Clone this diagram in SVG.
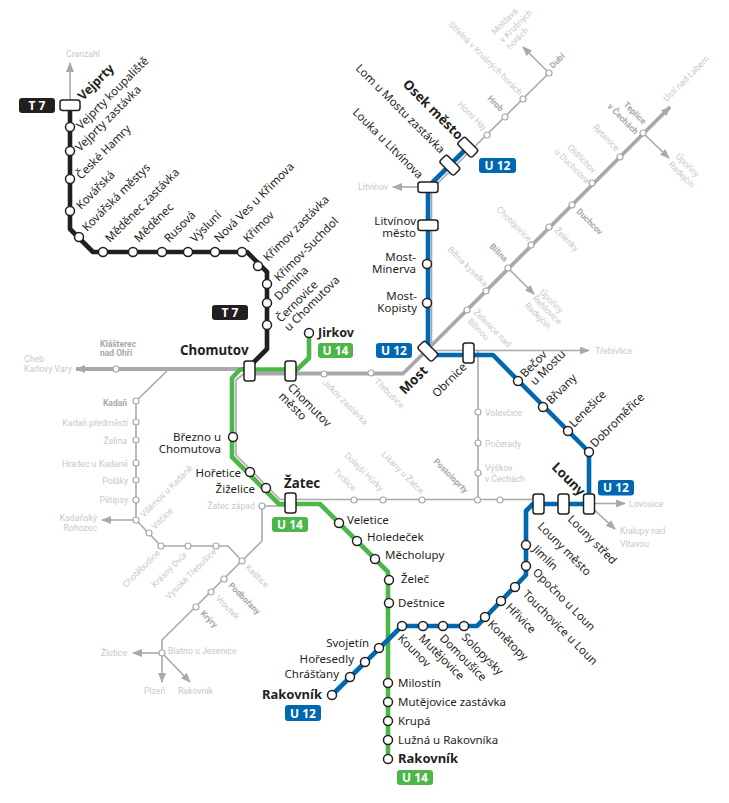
<svg xmlns="http://www.w3.org/2000/svg" width="729" height="803" viewBox="0 0 729 803">
<defs>
<marker id="ah" viewBox="0 0 10 8" refX="9" refY="4" markerWidth="10" markerHeight="8" markerUnits="userSpaceOnUse" orient="auto"><path d="M0 0L10 4L0 8Z" fill="#a7a9ac"/></marker>
<style>
text{font-family:"Noto Sans","Open Sans",sans-serif}
.d{font-size:11.500px;fill:#231f20}
.db{font-size:13.300px;font-weight:700;fill:#231f20}
.g{font-family:Roboto,"Noto Sans",sans-serif;font-size:8.700px;fill:#c7c8ca}
.gb{font-family:Roboto,"Noto Sans",sans-serif;font-size:8.500px;font-weight:700;fill:#a7a9ac}
.e{text-anchor:end}
.s{fill:#fff;stroke:#231f20;stroke-width:1.5}
.t{fill:#fff;stroke:#a7a9ac;stroke-width:1.200}
.r{fill:#fff;stroke:#231f20;stroke-width:1.500}
.l{fill:none;stroke-linejoin:round;stroke-width:4.600}
.gr{stroke:#a7a9ac;stroke-width:1.600;fill:none}
.gt{stroke:#a7a9ac;stroke-width:3.800;fill:none}
.bt{font-size:12px;font-weight:700;fill:#fff;text-anchor:middle}
</style>
</defs>
<g id="connectors">
<path class="gr" d="M70 100V63" marker-end="url(#ah)"/>
<path class="gt" d="M245 369H76" marker-end="url(#ah)"/>
<path class="gt" d="M252 373.500H403L432 345L670 107" marker-end="url(#ah)"/>
<path class="gr" d="M643 133L669 158" marker-end="url(#ah)"/>
<path class="gr" d="M508 268L534 294" marker-end="url(#ah)"/>
<path class="gr" d="M549 73L523 47" marker-end="url(#ah)"/>
<path class="gr" d="M549 73L436 185L431.500 190V345"/>
<path class="gr" d="M418 187H393" marker-end="url(#ah)"/>
<path class="gr" stroke-width="2" d="M430 350.500H589" marker-end="url(#ah)"/>
<path class="gr" d="M478 351V500"/>
<path class="gr" d="M245 373L236 380V455L280 499.500H533"/>
<path class="gr" d="M589 503.500H625" marker-end="url(#ah)"/>
<path class="gr" d="M589 505L615 529" marker-end="url(#ah)"/>
<path class="gr" d="M167 371L136 401V520L161 546H228L242 561"/>
<path class="gr" d="M136 520H102" marker-end="url(#ah)"/>
<path class="gr" d="M285 506H262V541L162 640V653"/>
<path class="gr" d="M162 653H133" marker-end="url(#ah)"/>
<path class="gr" d="M162 653V682" marker-end="url(#ah)"/>
<path class="gr" d="M162 653L190 682" marker-end="url(#ah)"/>
<path class="l" stroke="#231f20" d="M70 105V229L93 252H247L267 272V349L250 366"/>
<path class="l" stroke="#4cb748" d="M309 333V358L297 369.500H240L232 378V457L279 504H320L388 572V759"/>
<path class="l" stroke="#0067b1" d="M468 147L428 187V351L431 355H493L589 452V504H533L526 511V575L477 626H402L332 695"/>
</g>
<g id="badges">
<g id="b1"><rect x="19" y="98" width="36" height="15" rx="3" fill="#231f20"/><text class="bt" x="37" y="110">T 7</text></g>
<g id="b2"><rect x="212" y="305" width="36" height="15" rx="3" fill="#231f20"/><text class="bt" x="230" y="317">T 7</text></g>
<g id="b3"><rect x="318" y="343" width="35" height="15" rx="3" fill="#4cb748"/><text class="bt" x="335.500" y="355">U 14</text></g>
<g id="b4"><rect x="272" y="517" width="36" height="15" rx="3" fill="#4cb748"/><text class="bt" x="290" y="529">U 14</text></g>
<g id="b5"><rect x="397" y="770" width="36" height="15" rx="3" fill="#4cb748"/><text class="bt" x="415" y="782">U 14</text></g>
<g id="b6"><rect x="479" y="158" width="37" height="15" rx="3" fill="#0067b1"/><text class="bt" x="497.500" y="170">U 12</text></g>
<g id="b7"><rect x="376" y="343" width="36" height="15" rx="3" fill="#0067b1"/><text class="bt" x="394" y="355">U 12</text></g>
<g id="b8"><rect x="598" y="480" width="36" height="15.500" rx="3" fill="#0067b1"/><text class="bt" x="616" y="492">U 12</text></g>
<g id="b9"><rect x="285" y="705" width="36" height="16" rx="3" fill="#0067b1"/><text class="bt" x="303" y="717.500">U 12</text></g>
</g>
<g id="t7-line">
<g id="n-vejprty"><rect class="r" x="60" y="100" width="20" height="10.500" rx="2.500"/><text class="db" style="font-size:12.500px" transform="translate(83 101) rotate(-45)">Vejprty</text></g>
<g id="n-vk"><circle class="s" cx="70" cy="127" r="4.500"/><text class="d" transform="translate(81 130) rotate(-45)">Vejprty koupaliště</text></g>
<g id="n-vz"><circle class="s" cx="70" cy="151" r="4.500"/><text class="d" transform="translate(80 152) rotate(-45)">Vejprty zastávka</text></g>
<g id="n-ch"><circle class="s" cx="70" cy="179" r="4.500"/><text class="d" transform="translate(81 180) rotate(-45)">České Hamry</text></g>
<g id="n-ko"><circle class="s" cx="70" cy="211" r="4.500"/><text class="d" transform="translate(81 210) rotate(-45)">Kovářská</text></g>
<g id="n-km"><circle class="s" cx="79" cy="237" r="4.500"/><text class="d" transform="translate(87 232) rotate(-45)">Kovářská městys</text></g>
<g id="n-mz"><circle class="s" cx="103" cy="252" r="4.500"/><text class="d" transform="translate(110 243) rotate(-45)">Měděnec zastávka</text></g>
<g id="n-me"><circle class="s" cx="133" cy="252" r="4.500"/><text class="d" transform="translate(139 243) rotate(-45)">Měděnec</text></g>
<g id="n-ru"><circle class="s" cx="162" cy="252" r="4.500"/><text class="d" transform="translate(169 243) rotate(-45)">Rusová</text></g>
<g id="n-vy"><circle class="s" cx="188" cy="252" r="4.500"/><text class="d" transform="translate(195 243) rotate(-45)">Výsluní</text></g>
<g id="n-nv"><circle class="s" cx="215" cy="252" r="4.500"/><text class="d" transform="translate(219 243) rotate(-45)">Nová Ves u Křimova</text></g>
<g id="n-kr"><circle class="s" cx="242" cy="252" r="4.500"/><text class="d" transform="translate(248 243) rotate(-45)">Křimov</text></g>
<g id="n-kz"><circle class="s" cx="258" cy="266" r="4.500"/><text class="d" transform="translate(268 262) rotate(-45)">Křimov zastávka</text></g>
<g id="n-ks"><circle class="s" cx="267" cy="284" r="4.500"/><text class="d" transform="translate(279 282) rotate(-45)">Křimov-Suchdol</text></g>
<g id="n-do"><circle class="s" cx="267" cy="303" r="4.500"/><text class="d" transform="translate(279 301) rotate(-45)">Domina</text></g>
<g id="n-ce"><circle class="s" cx="267" cy="325" r="4.500"/><text class="d" transform="translate(281 323) rotate(-45)">Černovice</text><text class="d" transform="translate(289 332) rotate(-45)">u Chomutova</text></g>
</g>
<g id="u14-line">
<g id="n-jirkov"><circle class="s" cx="309" cy="333" r="4.500"/><text class="db" style="font-size:12.500px" x="318" y="337">Jirkov</text></g>
<g id="n-chomutov"><rect class="r" x="244" y="361" width="11" height="20" rx="2.500"/><text class="db" x="180" y="355">Chomutov</text></g>
<g id="n-chm"><rect class="r" x="285" y="361" width="11" height="20" rx="2.500"/><text class="d" transform="translate(287 388) rotate(45)">Chomutov</text><text class="d" transform="translate(278 397) rotate(45)">město</text></g>
<g id="n-br"><circle class="s" cx="233" cy="437" r="4.500"/><text class="d e" x="221" y="441">Březno u</text><text class="d e" x="221" y="452.500">Chomutova</text></g>
<g id="n-ho"><circle class="s" cx="250" cy="472" r="4.500"/><text class="d e" x="241" y="477">Hořetice</text></g>
<g id="n-zi"><circle class="s" cx="266" cy="488" r="4.500"/><text class="d e" x="255" y="493">Žiželice</text></g>
<g id="n-zatec"><rect class="r" x="285" y="493" width="11" height="20" rx="2.500"/><text class="db" x="284" y="488">Žatec</text></g>
<g id="n-ve"><circle class="s" cx="339" cy="523" r="4.500"/><text class="d" x="347" y="524">Veletice</text></g>
<g id="n-hd"><circle class="s" cx="357" cy="541" r="4.500"/><text class="d" x="367" y="541">Holedeček</text></g>
<g id="n-mc"><circle class="s" cx="375" cy="559" r="4.500"/><text class="d" x="385" y="559">Měcholupy</text></g>
<g id="n-zc"><circle class="s" cx="389" cy="580" r="4.500"/><text class="d" x="401" y="583">Želeč</text></g>
<g id="n-de"><circle class="s" cx="389" cy="603" r="4.500"/><text class="d" x="398" y="607">Deštnice</text></g>
<g id="n-mi"><circle class="s" cx="388" cy="683" r="4.500"/><text class="d" x="398" y="687">Milostín</text></g>
<g id="n-mu"><circle class="s" cx="388" cy="702" r="4.500"/><text class="d" x="398" y="706">Mutějovice zastávka</text></g>
<g id="n-kp"><circle class="s" cx="388" cy="721" r="4.500"/><text class="d" x="398" y="725">Krupá</text></g>
<g id="n-lu"><circle class="s" cx="388" cy="740" r="4.500"/><text class="d" x="398" y="744">Lužná u Rakovníka</text></g>
<g id="n-ra"><circle class="s" cx="388" cy="759" r="4.500"/><text class="db" style="font-size:13px" x="398" y="763">Rakovník</text></g>
</g>
<g id="u12-line">
<g id="n-osek"><rect class="r" x="458" y="142" width="20" height="10.500" rx="2.500" transform="rotate(45 468 147)"/><text class="db" transform="translate(402 85) rotate(45)">Osek město</text></g>
<g id="n-lom"><rect class="r" x="440" y="160" width="20" height="10.500" rx="2.500" transform="rotate(45 450 165)"/><text class="d" transform="translate(355 69) rotate(45)">Lom u Mostu zastávka</text></g>
<g id="n-louka"><rect class="r" x="418" y="182" width="20" height="10.500" rx="2.500"/><text class="d" transform="translate(352 113) rotate(45)">Louka u Litvínova</text></g>
<g id="n-lm"><rect class="r" x="418" y="220" width="20" height="10.500" rx="2.500"/><text class="d e" x="416" y="225">Litvínov</text><text class="d e" x="416" y="237">město</text></g>
<g id="n-mm"><circle class="s" cx="427" cy="264" r="4.500"/><text class="d e" x="416" y="261">Most-</text><text class="d e" x="416" y="273">Minerva</text></g>
<g id="n-mk"><circle class="s" cx="427" cy="303" r="4.500"/><text class="d e" x="417" y="300">Most-</text><text class="d e" x="417" y="312">Kopisty</text></g>
<g id="n-most"><rect class="r" x="418" y="346" width="20" height="10.500" rx="2.500" transform="rotate(45 428 351)"/><text class="db" transform="translate(405 395) rotate(-45)">Most</text></g>
<g id="n-ob"><rect class="r" x="463" y="343" width="11" height="20" rx="2.500"/><text class="d" transform="translate(437 398) rotate(-45)">Obrnice</text></g>
<g id="n-be"><circle class="s" cx="518" cy="381" r="4.500"/><text class="d" transform="translate(525 378) rotate(-45)">Bečov</text><text class="d" transform="translate(535 386) rotate(-45)">u Mostu</text></g>
<g id="n-bv"><circle class="s" cx="543" cy="407" r="4.500"/><text class="d" transform="translate(551 405) rotate(-45)">Břvany</text></g>
<g id="n-le"><circle class="s" cx="568" cy="431" r="4.500"/><text class="d" transform="translate(574 428) rotate(-45)">Lenešice</text></g>
<g id="n-db"><circle class="s" cx="589" cy="452" r="4.500"/><text class="d" transform="translate(595 448) rotate(-45)">Dobroměřice</text></g>
<g id="n-louny"><rect class="r" x="583.500" y="494" width="11" height="20" rx="2.500"/><text class="db" transform="translate(551 468) rotate(45)">Louny</text></g>
<g id="n-ls"><rect class="r" x="558" y="494" width="11" height="20" rx="2.500"/><text class="d" transform="translate(567 520) rotate(45)">Louny střed</text></g>
<g id="n-lo"><rect class="r" x="533" y="494" width="11" height="20" rx="2.500"/><text class="d" transform="translate(537 527) rotate(45)">Louny město</text></g>
<g id="n-ji"><circle class="s" cx="526" cy="545" r="4.500"/><text class="d" transform="translate(532 550) rotate(45)">Jimlín</text></g>
<g id="n-op"><circle class="s" cx="526" cy="566" r="4.500"/><text class="d" transform="translate(532 573) rotate(45)">Opočno u Loun</text></g>
<g id="n-to"><circle class="s" cx="515" cy="587" r="4.500"/><text class="d" transform="translate(522 595) rotate(45)">Touchovice u Loun</text></g>
<g id="n-hr"><circle class="s" cx="501" cy="601" r="4.500"/><text class="d" transform="translate(505 608) rotate(45)">Hřivice</text></g>
<g id="n-kn"><circle class="s" cx="485" cy="617" r="4.500"/><text class="d" transform="translate(487 625) rotate(45)">Konětopy</text></g>
<g id="n-so"><circle class="s" cx="464" cy="626" r="4.500"/><text class="d" transform="translate(461 638) rotate(45)">Solopysky</text></g>
<g id="n-dm"><circle class="s" cx="443" cy="626" r="4.500"/><text class="d" transform="translate(439 639) rotate(45)">Domoušice</text></g>
<g id="n-mj"><circle class="s" cx="423" cy="626" r="4.500"/><text class="d" transform="translate(418 639) rotate(45)">Mutějovice</text></g>
<g id="n-kv"><circle class="s" cx="402" cy="626" r="4.500"/><text class="d" transform="translate(397 639) rotate(45)">Kounov</text></g>
<g id="n-sv"><circle class="s" cx="379" cy="648" r="4.500"/><text class="d e" x="369" y="647">Svojetín</text></g>
<g id="n-hs"><circle class="s" cx="365" cy="662" r="4.500"/><text class="d e" x="354" y="663">Hořesedly</text></g>
<g id="n-cr"><circle class="s" cx="350" cy="677" r="4.500"/><text class="d e" x="339" y="678">Chrášťany</text></g>
<g id="n-rk"><circle class="s" cx="332" cy="695" r="4.500"/><text class="db" style="font-size:13px;text-anchor:end" x="322" y="699">Rakovník</text></g>
</g>
<g id="grey-stations">
<g id="g-cranzahl"><text class="g" x="66" y="57">Cranzahl</text></g>
<g id="g-cheb"><text class="g" x="24" y="362">Cheb</text><text class="g" x="24" y="372">Karlovy Vary</text></g>
<g id="g-kl"><circle class="t" cx="116" cy="369" r="3"/><text class="gb" x="100" y="347">Klášterec</text><text class="gb" x="100" y="356">nad Ohří</text></g>
<g id="g-kd"><circle class="t" cx="136" cy="401" r="3"/><text class="gb e" x="127" y="406">Kadaň</text></g>
<g id="g-kp"><circle class="t" cx="136" cy="422" r="3"/><text class="g e" x="128" y="426">Kadaň předměstí</text></g>
<g id="g-ze"><circle class="t" cx="136" cy="440" r="3"/><text class="g e" x="127" y="444">Želina</text></g>
<g id="g-hk"><circle class="t" cx="136" cy="463" r="3"/><text class="g e" x="128" y="467">Hradec u Kadaně</text></g>
<g id="g-po"><circle class="t" cx="136" cy="480" r="3"/><text class="g e" x="128" y="484">Poláky</text></g>
<g id="g-pe"><circle class="t" cx="136" cy="500" r="3"/><text class="g e" x="128" y="503">Pětipsy</text></g>
<g id="g-kr"><circle class="t" cx="136" cy="520" r="3"/><text class="g e" x="97" y="521">Kadaňský</text><text class="g e" x="97" y="531">Rohozec</text><text class="g" transform="translate(144 518) rotate(-45)">Vilémov u Kadaně</text></g>
<g id="g-vi"><circle class="t" cx="149" cy="533" r="3"/><text class="g" transform="translate(155 530) rotate(-45)">Vitčice</text></g>
<g id="g-cb"><circle class="t" cx="161" cy="546" r="3"/><text class="g" transform="translate(126 588) rotate(-45)">Chotěbudice</text></g>
<g id="g-kv"><circle class="t" cx="188" cy="546" r="3"/><text class="g" transform="translate(155 588) rotate(-45)">Krásný Dvůr</text></g>
<g id="g-vt"><circle class="t" cx="216" cy="546" r="3"/><text class="g" transform="translate(169 600) rotate(-45)">Vysoké Třebušice</text></g>
<g id="g-ka"><circle class="t" cx="242" cy="561" r="3"/><text class="g" transform="translate(245 568) rotate(45)">Kaštice</text></g>
<g id="g-pd"><circle class="t" cx="224" cy="579" r="3"/><text class="gb" transform="translate(228 586) rotate(45)">Podbořany</text></g>
<g id="g-vr"><circle class="t" cx="211" cy="592" r="3"/><text class="g" transform="translate(215 599) rotate(45)">Vroutek</text></g>
<g id="g-kk"><circle class="t" cx="196" cy="607" r="3"/><text class="gb" transform="translate(200 614) rotate(45)">Krýry</text></g>
<g id="g-bl"><circle class="t" cx="162" cy="653" r="3"/><text class="g" x="168" y="654">Blatno u Jesenice</text></g>
<g id="g-zl"><text class="g e" x="127" y="656">Žlutice</text></g>
<g id="g-pl"><text class="g" x="144" y="694">Plzeň</text></g>
<g id="g-rk"><text class="g" x="178" y="694">Rakovník</text></g>
<g id="g-zz"><circle class="t" cx="262" cy="506" r="3"/><text class="g e" x="255" y="509">Žatec západ</text></g>
<g id="g-jz"><circle class="t" cx="324" cy="374" r="3"/><text class="g" transform="translate(322 383) rotate(45)">Jirkov zastávka</text></g>
<g id="g-tr"><circle class="t" cx="371" cy="373" r="3"/><text class="g" transform="translate(374 382) rotate(45)">Třebušice</text></g>
<g id="g-tu"><circle class="t" cx="354" cy="500" r="3"/><text class="g" transform="translate(333 472) rotate(45)">Tvršice</text></g>
<g id="g-dh"><circle class="t" cx="383" cy="500" r="3"/><text class="g" transform="translate(344 456) rotate(45)">Dolejší Hůrky</text></g>
<g id="g-li"><circle class="t" cx="422" cy="500" r="3"/><text class="g" transform="translate(381 455) rotate(45)">Lišany u Žatce</text></g>
<g id="g-ps"><circle class="t" cx="477.500" cy="500" r="3"/><text class="gb" transform="translate(433 462) rotate(45)">Postoloprty</text></g>
<g id="g-x"><circle class="t" cx="500" cy="500" r="3"/></g>
<g id="g-vo"><circle class="t" cx="478" cy="412" r="3"/><text class="g" x="485" y="416">Volevčice</text></g>
<g id="g-pc"><circle class="t" cx="478" cy="443" r="3"/><text class="g" x="485" y="447">Počerady</text></g>
<g id="g-vc"><circle class="t" cx="478" cy="473" r="3"/><text class="g" x="485" y="471">Výškov</text><text class="g" x="485" y="482">v Čechách</text></g>
<g id="g-lv"><text class="g" x="629" y="507">Lovosice</text></g>
<g id="g-kn"><text class="g" x="620" y="534">Kralupy nad</text><text class="g" x="620" y="547">Vltavou</text></g>
<g id="g-tb"><text class="g" x="595" y="354">Třebívlice</text></g>
<g id="g-zn"><circle class="t" cx="467" cy="310" r="3"/><text class="g" transform="translate(473 313) rotate(45)">Želenice nad</text><text class="g" transform="translate(467 322) rotate(45)">Bílinou</text></g>
<g id="g-bk"><circle class="t" cx="486" cy="291" r="3"/><text class="g" transform="translate(447 250) rotate(45)">Bílina kyselka</text></g>
<g id="g-bi"><circle class="t" cx="508" cy="268" r="3"/><text class="gb" transform="translate(489 247) rotate(45)">Bílina</text></g>
<g id="g-up1"><text class="g" transform="translate(539 293) rotate(45)">Úpořiny</text><text class="g" transform="translate(532 299) rotate(45)">Řehlovice</text><text class="g" transform="translate(524 306) rotate(45)">Radejčín</text></g>
<g id="g-ct"><circle class="t" cx="531" cy="245" r="3"/><text class="g" transform="translate(496 210) rotate(45)">Chotějovice</text></g>
<g id="g-zk"><circle class="t" cx="549" cy="227" r="3"/><text class="g" transform="translate(554 231) rotate(45)">Želénky</text></g>
<g id="g-du"><circle class="t" cx="572" cy="205" r="3"/><text class="gb" transform="translate(576 212) rotate(45)">Duchcov</text></g>
<g id="g-ol"><circle class="t" cx="592" cy="183" r="3"/><text class="g" transform="translate(567 148) rotate(45)">Oldřichov</text><text class="g" transform="translate(554 152) rotate(45)">u Duchcova</text></g>
<g id="g-re"><circle class="t" cx="620" cy="157" r="3"/><text class="g" transform="translate(592 128) rotate(45)">Řetenice</text></g>
<g id="g-te"><circle class="t" cx="643" cy="133" r="3"/><text class="gb" transform="translate(623 105) rotate(45)">Teplice</text><text class="gb" transform="translate(607 107) rotate(45)">v Čechách</text></g>
<g id="g-us"><text class="g" transform="translate(667 102) rotate(-45)">Ústí nad Labem</text></g>
<g id="g-up2"><text class="g" transform="translate(675 157) rotate(45)">Úpořiny</text><text class="g" transform="translate(668 165) rotate(45)">Radejčín</text></g>
<g id="g-db"><circle class="t" cx="549" cy="73" r="3"/><text class="gb" transform="translate(553 69) rotate(-45)">Dubí</text></g>
<g id="g-mo"><text class="g" transform="translate(495 35) rotate(-45)">Moldava</text><text class="g" transform="translate(503 43) rotate(-45)">v Krušných</text><text class="g" transform="translate(510 50) rotate(-45)">horách</text></g>
<g id="g-st"><circle class="t" cx="523" cy="99" r="3"/><text class="g" transform="translate(448 25) rotate(45)">Střelná v Krušných horách</text></g>
<g id="g-hb"><circle class="t" cx="505" cy="117" r="3"/><text class="gb" transform="translate(487 99) rotate(45)">Hrob</text></g>
<g id="g-hh"><circle class="t" cx="487" cy="135" r="3"/><text class="g" transform="translate(457 105) rotate(45)">Horní Háj</text></g>
<g id="g-lt"><text class="g e" x="388" y="190">Litvínov</text></g>
</g>
</svg>
